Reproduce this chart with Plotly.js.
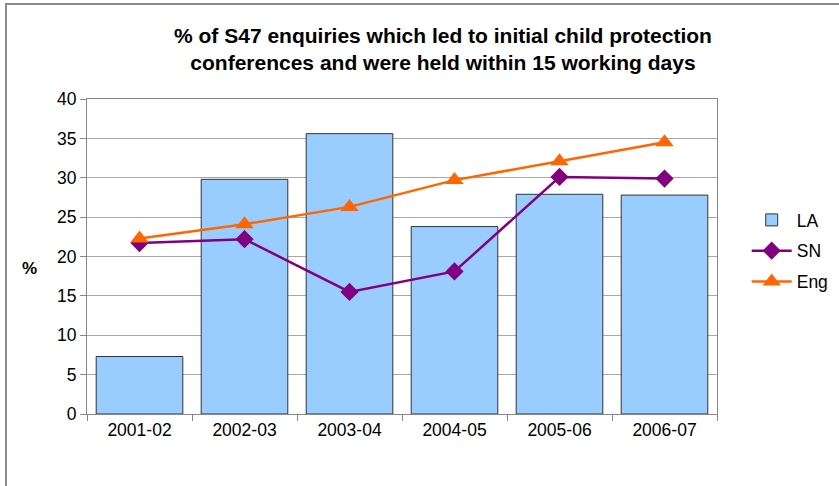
<!DOCTYPE html>
<html>
<head>
<meta charset="utf-8">
<script src="https://cdn.plot.ly/plotly-3.0.1.min.js"></script>
<style>
html,body{margin:0;padding:0;background:#fff;}
#wrap{position:relative;width:839px;height:486px;overflow:hidden;}
#frame{position:absolute;left:5px;top:3px;width:900px;height:600px;border-left:2px solid #8c8c8c;border-top:2px solid #8c8c8c;pointer-events:none;z-index:5;}
#chart{position:absolute;left:0;top:0;width:839px;height:486px;}
</style>
</head>
<body>
<div id="wrap"><div id="chart"></div><div id="frame"></div></div>
<script>
const years = ["2001-02","2002-03","2003-04","2004-05","2005-06","2006-07"];
const laValues = [7.3, 29.8, 35.6, 23.8, 27.9, 27.8];
const snValues = [21.7, 22.2, 15.5, 18.1, 30.1, 29.9];
const engValues = [22.3, 24.1, 26.3, 29.7, 32.1, 34.5];
const yTicks = [0,5,10,15,20,25,30,35,40];

const font = "Liberation Sans, Arial, sans-serif";

const traces = [
  {type:"bar", name:"LA", legendgroup:"a", x:years, y:laValues,
   marker:{color:"#99CCFF", line:{color:"#333333", width:1}}},
  {type:"scatter", mode:"lines+markers", name:"SN", legendgroup:"b", x:years, y:snValues,
   line:{color:"#800080", width:2.5},
   marker:{symbol:"diamond", size:14, color:"#800080"}},
  {type:"scatter", mode:"lines+markers", name:"Eng", legendgroup:"c", x:years, y:engValues,
   line:{color:"#FF6600", width:2.5},
   marker:{symbol:"triangle-up", size:16, color:"#FF6600"}}
];

const layout = {
  width:839, height:486,
  paper_bgcolor:"#ffffff", plot_bgcolor:"#ffffff",
  margin:{l:87, r:122, t:99, b:72, pad:0},
  bargap:0.175,
  showlegend:true,
  font:{family:font, size:17, color:"#000"},
  title:{text:"<b>% of S47 enquiries which led to initial child protection<br>conferences and were held within 15 working days</b>",
         font:{family:font, size:21, color:"#000"}, x:0.528, xref:"container", xanchor:"center",
         y:0.912, yref:"container", yanchor:"top"},
  xaxis:{type:"category", tickson:"boundaries", ticks:"outside", ticklen:6, tickcolor:"#888",
         showline:true, linecolor:"#888", linewidth:1, mirror:true, showgrid:false,
         tickfont:{family:font, size:17.5, color:"#000"}},
  yaxis:{range:[0,40], tickvals:yTicks, ticks:"outside", ticklen:6, tickcolor:"#888",
         showline:true, linecolor:"#888", linewidth:1, mirror:true,
         showgrid:true, gridcolor:"#a8a8a8", gridwidth:1, zeroline:false,
         tickfont:{family:font, size:17.5, color:"#000"}},
  legend:{xref:"container", yref:"container", x:0.89, xanchor:"left", y:1-251/486, yanchor:"middle",
          font:{family:font, size:17.5, color:"#000"},
          tracegroupgap:5, itemwidth:40, bgcolor:"rgba(0,0,0,0)"},
  annotations:[{text:"<b>%</b>", xref:"paper", yref:"paper", x:-0.0905, xanchor:"center",
                y:0.463, yanchor:"middle", showarrow:false,
                font:{family:font, size:17, color:"#000"}}]
};

Plotly.newPlot("chart", traces, layout, {displayModeBar:false, staticPlot:true});
</script>
</body>
</html>
